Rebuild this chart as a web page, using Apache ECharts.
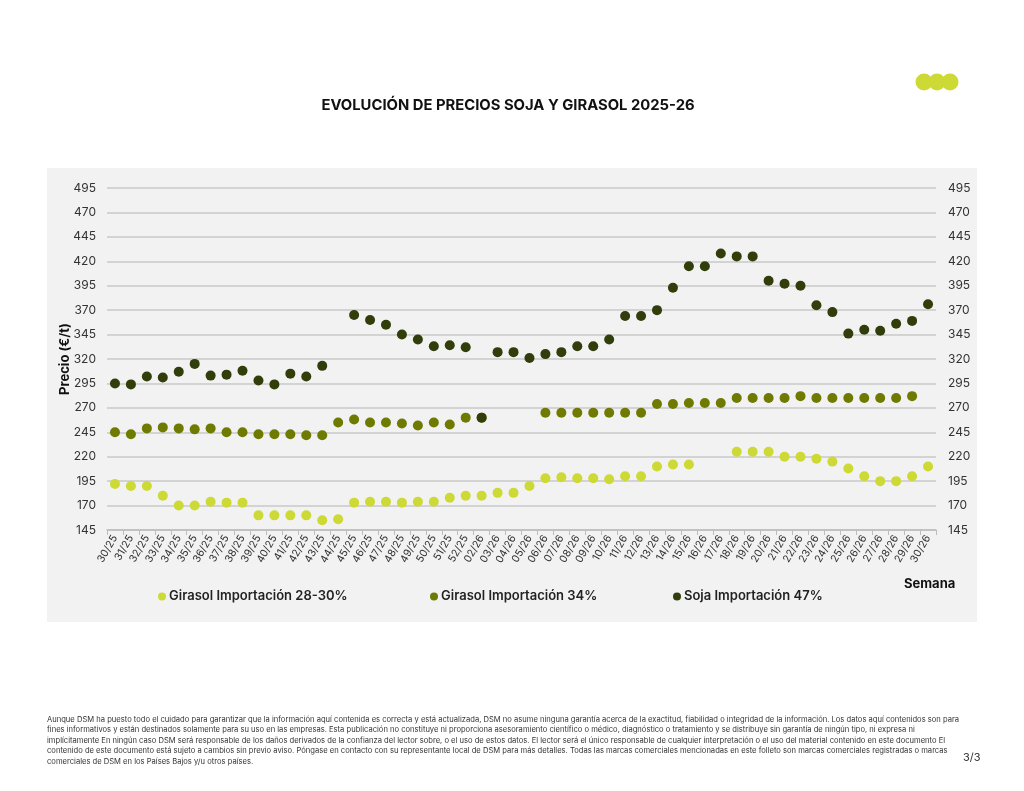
<!DOCTYPE html>
<html>
<head>
<meta charset="utf-8">
<script src="https://cdn.jsdelivr.net/npm/echarts@6/dist/echarts.min.js"></script>
<style>
  html, body { margin: 0; padding: 0; background: #ffffff; }
  #main { width: 1024px; height: 791px; }
</style>
</head>
<body>
<div id="main"></div>
<script>
// semanas (no hay 01/26 en el original)
var semanas = ['30/25','31/25','32/25','33/25','34/25','35/25','36/25','37/25','38/25','39/25','40/25','41/25','42/25','43/25','44/25','45/25','46/25','47/25','48/25','49/25','50/25','51/25','52/25',
  '02/26','03/26','04/26','05/26','06/26','07/26','08/26','09/26','10/26','11/26','12/26','13/26','14/26','15/26','16/26','17/26','18/26','19/26','20/26','21/26','22/26','23/26','24/26','25/26','26/26','27/26','28/26','29/26','30/26'];

// Girasol Importación 28-30%
var girasol2830 = [192,190,190,180,170,170,174,173,173,160,160,160,160,155,156,173,174,174,173,174,174,178,180,
  180,183,183,190,198,199,198,198,197,200,200,210,212,212,null,null,225,225,225,220,220,218,215,208,200,195,195,200,210];

// Girasol Importación 34%
var girasol34 = [245,243,249,250,249,248,249,245,245,243,243,243,242,242,255,258,255,255,254,252,255,253,260,
  260,null,null,null,265,265,265,265,265,265,265,274,274,275,275,275,280,280,280,280,282,280,280,280,280,280,280,282,null];

// Soja Importación 47%
var soja47 = [295,294,302,301,307,315,303,304,308,298,294,305,302,313,null,365,360,355,345,340,333,334,332,
  260,327,327,321,325,327,333,333,340,364,364,370,393,415,415,428,425,425,400,397,395,375,368,346,350,349,356,359,376];

// eje Y
var yMin = 145, yMax = 495, yPaso = 25;

var nombres = ['Girasol Importación 28-30%', 'Girasol Importación 34%', 'Soja Importación 47%'];
var colores = ['#cdd935', '#6f7a00', '#313d0a'];
var fuente = 'Inter, "Noto Sans", sans-serif';

var textoLegal = 'Aunque DSM ha puesto todo el cuidado para garantizar que la información aquí contenida es correcta y está actualizada, DSM no asume ninguna garantía acerca de la exactitud, fiabilidad o integridad de la información. Los datos aquí contenidos son para\n' +
  'fines informativos y están destinados solamente para su uso en las empresas. Esta publicación no constituye ni proporciona asesoramiento científico o médico, diagnóstico o tratamiento y se distribuye sin garantía de ningún tipo, ni expresa ni\n' +
  'implícitamente En ningún caso DSM será responsable de los daños derivados de la confianza del lector sobre, o el uso de estos datos. El lector será el único responsable de cualquier interpretación o el uso del material contenido en este documento El\n' +
  'contenido de este documento está sujeto a cambios sin previo aviso. Póngase en contacto con su representante local de DSM para más detalles. Todas las marcas comerciales mencionadas en este folleto son marcas comerciales registradas o marcas\n' +
  'comerciales de DSM en los Países Bajos y/u otros países.';

var myChart = echarts.init(document.getElementById('main'));

function ejeY(posicion) {
  return {
    type: 'value',
    position: posicion,
    min: yMin,
    max: yMax,
    interval: yPaso,
    axisLine: { show: false },
    axisTick: { show: false },
    axisLabel: {
      color: '#333',
      fontSize: 12,
      fontFamily: fuente,
      margin: posicion == 'left' ? 11 : 12
    },
    splitLine: { show: posicion == 'left', lineStyle: { color: '#c9c9c9', width: 1.5 } }
  };
}

var izq = ejeY('left');
izq.name = 'Precio (€/t)';
izq.nameLocation = 'middle';
izq.nameGap = 35;
izq.nameMoveOverlap = false;
izq.nameTextStyle = { color: '#111', fontSize: 13, fontWeight: 'bold', fontFamily: fuente };

function serie(i, datos) {
  return {
    name: nombres[i],
    type: 'scatter',
    data: datos,
    symbol: 'circle',
    symbolSize: 10,
    itemStyle: { color: colores[i], opacity: 1 }
  };
}

// una leyenda por serie para colocarlas como en el original
function leyenda(i, x) {
  return {
    top: 585,
    left: x,
    itemWidth: 8,
    itemHeight: 8,
    icon: 'circle',
    textStyle: { color: '#222', fontSize: 13, fontWeight: 600, fontFamily: fuente, padding: [0, 0, 0, -2] },
    data: [nombres[i]]
  };
}

option = {
  backgroundColor: '#ffffff',
  animation: false,
  title: {
    text: 'EVOLUCIÓN DE PRECIOS SOJA Y GIRASOL 2025-26',
    left: 503,
    top: 93,
    textAlign: 'center',
    textStyle: { color: '#111', fontSize: 14.8, fontWeight: 'bold', fontFamily: fuente }
  },
  legend: [leyenda(0, 153), leyenda(1, 425), leyenda(2, 668)],
  grid: { left: 107, right: 88, top: 188, bottom: 261, containLabel: false },
  xAxis: {
    type: 'category',
    data: semanas,
    boundaryGap: true,
    axisLine: { show: true, lineStyle: { color: '#bdbdbd', width: 1.5 } },
    axisTick: { show: true, length: 5, lineStyle: { color: '#bdbdbd' } },
    axisLabel: { rotate: 60, interval: 0, fontSize: 10.5, color: '#333', fontFamily: fuente, margin: 6 }
  },
  yAxis: [izq, ejeY('right')],
  graphic: [
    { type: 'rect', z: -10, shape: { x: 47, y: 168, width: 930, height: 454 }, style: { fill: '#f2f2f2' } },
    { type: 'circle', shape: { cx: 924, cy: 82, r: 8.5 }, style: { fill: '#cdd935' } },
    { type: 'circle', shape: { cx: 937, cy: 82, r: 8.5 }, style: { fill: '#cdd935' } },
    { type: 'circle', shape: { cx: 950, cy: 82, r: 8.5 }, style: { fill: '#cdd935' } },
    { type: 'text', left: 904, top: 578, style: { text: 'Semana', fill: '#111', font: 'bold 13px ' + fuente } },
    { type: 'text', left: 47, top: 714, style: { text: textoLegal, fill: '#333', font: '7.6px ' + fuente, lineHeight: 10.6 } },
    { type: 'text', left: 963, top: 752, style: { text: '3/3', fill: '#333', font: '11px ' + fuente } }
  ],
  series: [
    serie(0, girasol2830),
    serie(1, girasol34),
    serie(2, soja47)
  ]
};

myChart.setOption(option);
</script>
</body>
</html>
